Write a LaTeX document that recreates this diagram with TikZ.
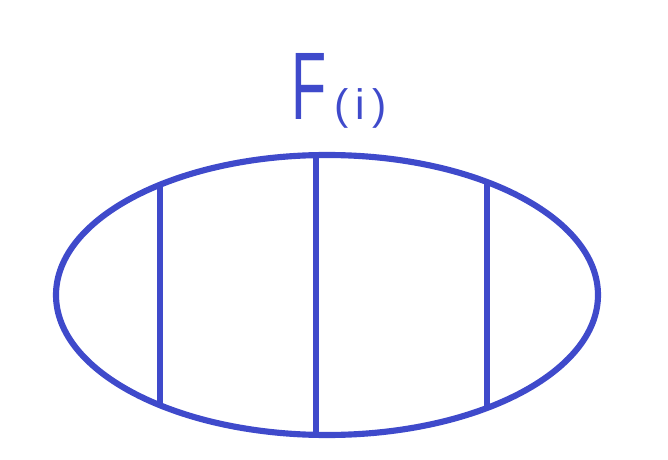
\documentclass[tikz,border=0pt]{standalone}
\usepackage{fontspec}
\setmainfont{Liberation Sans}
\definecolor{pen}{HTML}{3F4ACB}
\begin{document}
\begin{tikzpicture}[x=0.75pt,y=-0.75pt,
  stroke/.style={draw=pen,line width=4.6pt},
  label/.style={text=pen,inner sep=0pt}]
\useasboundingbox (0,0) rectangle (668,460);
\draw[stroke] (327,295) ellipse [x radius=271,y radius=140];
\coordinate (a1) at (160,184); \coordinate (a2) at (160,407);
\coordinate (b1) at (316,155); \coordinate (b2) at (316,435);
\coordinate (c1) at (487,182); \coordinate (c2) at (487,406);
\draw[stroke] (a1) -- (a2);
\draw[stroke] (b1) -- (b2);
\draw[stroke] (c1) -- (c2);
\node[label,anchor=base west] (F) at (291,119)
  {\fontsize{72}{72}\selectfont\scalebox{0.6}[1]{F}\hspace{6pt}{\fontsize{32}{32}\selectfont(\,i\,)}};
\end{tikzpicture}
\end{document}
